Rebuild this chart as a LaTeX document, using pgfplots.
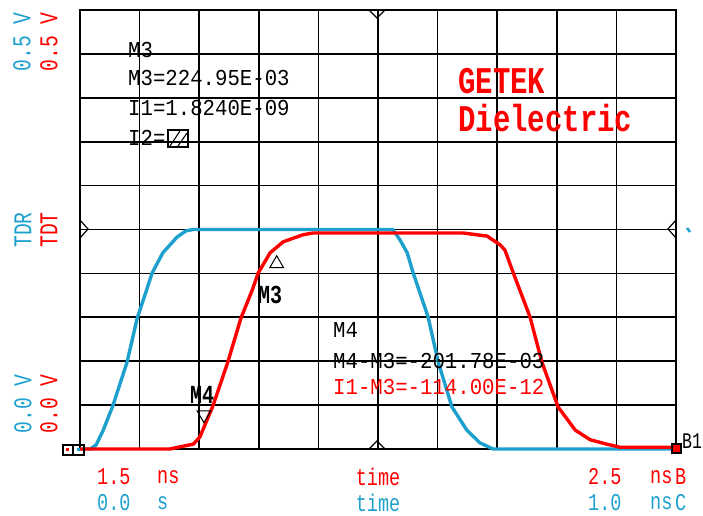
\documentclass[border=0pt]{standalone}
\usepackage{fontspec}
\usepackage{graphicx}
\usepackage{pgfplots}
\pgfplotsset{compat=1.18}
\newfontfamily\mono{Liberation Mono}
\definecolor{tdr}{RGB}{30,160,205}
\definecolor{tdt}{RGB}{255,0,0}
% size, vertical stretch, text
\newcommand\mtxt[3]{\scalebox{1}[#2]{\fontsize{#1}{#1}\selectfont\mono #3}}

% traces in screen divisions (10 x 10)
\pgfplotstableread{
x y
0 0
0.17 0
0.27 0.09
0.39 0.43
0.55 0.98
0.79 1.98
0.96 2.98
1.09 3.51
1.21 4.01
1.39 4.47
1.63 4.83
1.78 4.97
1.90 5.00
5.25 5.00
5.37 4.76
5.49 4.47
5.59 4.01
5.84 3.01
6.01 1.98
6.24 0.96
6.49 0.43
6.71 0.14
6.93 0
10 0
}\tdrdata

\pgfplotstableread{
x y
0 0
1.51 0
1.68 0.05
1.90 0.11
2.01 0.27
2.23 0.98
2.48 1.98
2.70 2.98
2.89 3.62
2.99 4.01
3.19 4.47
3.41 4.72
3.74 4.88
3.91 4.92
6.43 4.92
6.83 4.85
7.05 4.65
7.13 4.53
7.27 4.01
7.55 3.01
7.75 1.98
8.02 0.96
8.31 0.43
8.56 0.21
8.84 0.11
9.06 0.04
10 0.04
}\tdtdata

\begin{document}
\begin{tikzpicture}
\begin{axis}[
at={(80pt,66pt)}, anchor=south west,
scale only axis, width=596pt, height=439pt,
xmin=0, xmax=10, ymin=0, ymax=10,
xtick={0,...,10}, ytick={0,...,10},
xticklabels={}, yticklabels={},
major tick length=0pt,
grid=major,
major grid style={black, line width=1.7pt},
axis line style={black, line width=1.7pt},
clip=false,
]
\addplot[tdr, line width=3.4pt, line join=round] table[x=x,y=y] {\tdrdata};
\addplot[tdt, line width=3.4pt, line join=round] table[x=x,y=y] {\tdtdata};
% markers M3, M4
\addplot[only marks, mark=triangle, mark size=8pt, black, line width=1pt] coordinates {(3.30,4.22)};
\addplot[only marks, mark=triangle, mark size=8pt, mark options={rotate=180}, black, line width=1pt] coordinates {(2.08,0.78)};
\end{axis}

% screen text in pixel coordinates
\begin{scope}[yshift=515pt, x=1pt, y=-1pt]
\tikzset{every node/.style={inner sep=0pt}}
% left rotated labels
\node[text=tdr, rotate=90] at (22,42) {\mtxt{19.7}{1.3}{0.5 V}};
\node[text=tdt, rotate=90] at (49,42) {\mtxt{19.7}{1.3}{0.5 V}};
\node[text=tdr, rotate=90] at (23,230) {\mtxt{19.7}{1.3}{TDR}};
\node[text=tdt, rotate=90] at (49,230) {\mtxt{19.7}{1.3}{TDT}};
\node[text=tdr, rotate=90] at (23,404) {\mtxt{19.7}{1.3}{0.0 V}};
\node[text=tdt, rotate=90] at (49,404) {\mtxt{19.7}{1.3}{0.0 V}};
% bottom labels
\node[text=tdt, anchor=west] at (97,477) {\mtxt{18.5}{1.3}{1.5}};
\node[text=tdt, anchor=west] at (157,477) {\mtxt{18.5}{1.3}{ns}};
\node[text=tdt] at (378,477) {\mtxt{18.5}{1.3}{time}};
\node[text=tdt, anchor=west] at (588,477) {\mtxt{18.5}{1.3}{2.5}};
\node[text=tdt, anchor=west] at (650,477) {\mtxt{18.5}{1.3}{ns}};
\node[text=tdt, anchor=west] at (675,477) {\mtxt{18.5}{1.3}{B}};
\node[text=tdr, anchor=west] at (97,503) {\mtxt{18.5}{1.3}{0.0}};
\node[text=tdr, anchor=west] at (157,503) {\mtxt{18.5}{1.3}{s}};
\node[text=tdr] at (378,503) {\mtxt{18.5}{1.3}{time}};
\node[text=tdr, anchor=west] at (588,503) {\mtxt{18.5}{1.3}{1.0}};
\node[text=tdr, anchor=west] at (650,503) {\mtxt{18.5}{1.3}{ns}};
\node[text=tdr, anchor=west] at (675,503) {\mtxt{18.5}{1.3}{C}};
% marker readouts
\node[anchor=west] at (128,50) {\mtxt{20.7}{1.1}{M3}};
\node[anchor=west] at (128,78) {\mtxt{20.7}{1.1}{M3=224.95E-03}};
\node[anchor=west] at (128,108) {\mtxt{20.7}{1.1}{I1=1.8240E-09}};
\node[anchor=west] at (128,138) {\mtxt{20.7}{1.1}{I2=}};
\draw[line width=1.3pt] (168,130) rectangle (188,147);
\draw[line width=1.1pt] (170,146)--(180,131) (178,146)--(187,133);
\node[anchor=west] at (333,330) {\mtxt{20.7}{1.1}{M4}};
\node[anchor=west] at (333,361) {\mtxt{20.7}{1.1}{M4-M3=-201.78E-03}};
\node[anchor=west, text=tdt] at (333,387) {\mtxt{20.7}{1.1}{I1-M3=-114.00E-12}};
% title
\node[anchor=west, text=tdt] at (458,81) {\scalebox{1}[1.3]{\fontsize{29}{29}\selectfont\mono\bfseries GETEK}};
\node[anchor=west, text=tdt] at (458,118) {\scalebox{1}[1.3]{\fontsize{29}{29}\selectfont\mono\bfseries Dielectric}};
% marker names
\node at (270,295) {\scalebox{1}[1.3]{\fontsize{20}{20}\selectfont\mono\bfseries M3}};
\node at (202,395) {\scalebox{1}[1.3]{\fontsize{20}{20}\selectfont\mono\bfseries M4}};
% reference arrows on the screen edges
\draw[line width=1.2pt] (80,220)--(88,229)--(80,238);
\draw[line width=1.2pt] (676,220)--(668,229)--(676,238);
\draw[line width=1.2pt] (369,10)--(377,18)--(385,10);
\draw[line width=1.2pt] (369,449)--(377,441)--(385,449);
\draw[tdr, line width=2.5pt] (687,228)--(690,232);
% end boxes
\draw[line width=1.2pt] (63,445) rectangle (73,455);
\draw[line width=1.2pt] (73,445) rectangle (84,455);
\fill[tdt] (66,448) rectangle (69,451);
\fill[tdr] (77,448) rectangle (80,451);
\draw[line width=1.2pt, fill=tdt] (672,444) rectangle (681,453);
\node[anchor=west] at (682,441) {\mtxt{16.5}{1.35}{B1}};
\end{scope}
\pgfresetboundingbox
\useasboundingbox (0,0) rectangle (703pt,515pt);
\end{tikzpicture}
\end{document}
